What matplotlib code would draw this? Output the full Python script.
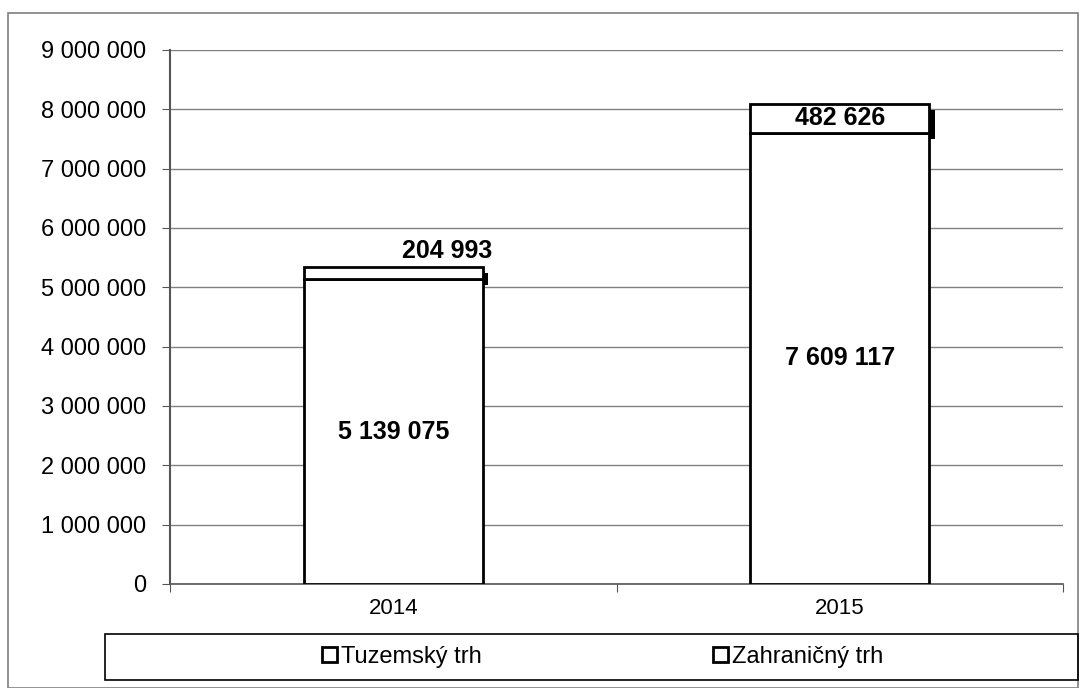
import matplotlib
matplotlib.use("Agg")
import matplotlib.pyplot as plt
import matplotlib.transforms as mtransforms
from matplotlib.patches import Rectangle
from matplotlib.ticker import FuncFormatter

plt.rcParams['font.family'] = ['Liberation Sans', 'DejaVu Sans']

years = ['2014', '2015']
tuzemsky = [5139075, 7609117]
zahranicny = [204993, 482626]
series_names = ['Tuzemský trh', 'Zahraničný trh']

def fmt(v):
    return '{:,}'.format(int(v)).replace(',', ' ')

fig = plt.figure(figsize=(10.83, 6.88), dpi=100)
fig.patches.append(Rectangle((8/1083, 0.0), 1070/1083, 675/688, transform=fig.transFigure,
                             fill=False, edgecolor='#7f7f7f', linewidth=1.2))
ax = fig.add_axes([170/1083, 104/688, 893/1083, 534/688])

x = list(range(len(years)))
w = 0.4
b1 = ax.bar(x, tuzemsky, width=w, color='white', edgecolor='black', linewidth=2, zorder=3,
            label=series_names[0])
b2 = ax.bar(x, zahranicny, width=w, bottom=tuzemsky, color='white', edgecolor='black',
            linewidth=2, zorder=3, label=series_names[1])

# small dark shadow on the right of the top segment
shadow = mtransforms.offset_copy(ax.transData, fig=fig, x=3, y=-6, units='dots')
for i in x:
    ax.bar(i + w / 2, zahranicny[i], width=0.012, bottom=tuzemsky[i], color='black',
           linewidth=0, zorder=2, transform=shadow)

for i in x:
    ax.text(i, tuzemsky[i] / 2, fmt(tuzemsky[i]), ha='center', va='center',
            fontsize=18, fontweight='bold', zorder=5)
ax.text(0 + 0.12, tuzemsky[0] + zahranicny[0] + 60000, fmt(zahranicny[0]), ha='center',
        va='bottom', fontsize=18, fontweight='bold', zorder=5)
ax.text(1, tuzemsky[1] + zahranicny[1] / 2, fmt(zahranicny[1]), ha='center', va='center',
        fontsize=18, fontweight='bold', zorder=5)

ax.set_ylim(0, 9000000)
ax.set_yticks(range(0, 9000001, 1000000))
ax.yaxis.set_major_formatter(FuncFormatter(lambda v, p: fmt(v)))
ax.yaxis.grid(True, color='#808080', linewidth=1, zorder=0)
ax.set_axisbelow(True)

ax.set_xlim(-0.5, 1.5)
ax.set_xticks([-0.5, 0.5, 1.5])
ax.set_xticklabels([])
ax.set_xticks(x, minor=True)
ax.set_xticklabels(years, minor=True)
ax.tick_params(axis='x', which='minor', length=0, pad=10, labelsize=16)
ax.tick_params(axis='x', which='major', length=6, color='#555555')
ax.tick_params(axis='y', length=6, color='#555555', labelsize=17, pad=11)

for s in ['top', 'right']:
    ax.spines[s].set_visible(False)
ax.spines['left'].set_color('#555555')
ax.spines['left'].set_linewidth(1.5)
ax.spines['bottom'].set_color('#555555')
ax.spines['bottom'].set_linewidth(1.2)

fig.patches.append(Rectangle((105/1083, 8/688), 973/1083, 46/688, transform=fig.transFigure,
                             fill=False, edgecolor='black', linewidth=1.2))
leg = fig.legend(handles=[b1, b2], labels=series_names, loc='center',
                 bbox_to_anchor=(603/1083, 31/688), ncol=2, frameon=False, fontsize=17,
                 handlelength=0.6, handleheight=0.6, handletextpad=0.2, columnspacing=9.8)

fig.savefig('out.png', dpi=100)
